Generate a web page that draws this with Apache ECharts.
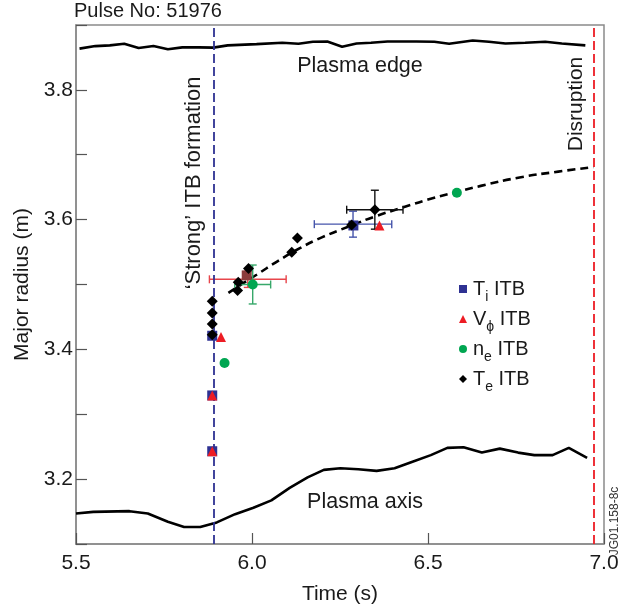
<!DOCTYPE html>
<html>
<head>
<meta charset="utf-8">
<script src="https://cdn.jsdelivr.net/npm/echarts@6/dist/echarts.min.js"></script>
<style>
html,body{margin:0;padding:0;background:#fff;}
#chart{width:633px;height:610px;}
</style>
</head>
<body>
<div id="chart"></div>
<script>
// ---------- data ----------
const xTicks = [5.5, 6.0, 6.5, 7.0];
const yTickLabels = [3.2, 3.4, 3.6, 3.8];

const edgeTime   = [5.510,5.555,5.596,5.637,5.678,5.720,5.761,5.802,5.849,5.890,5.931,6.013,6.086,6.132,6.173,6.214,6.256,6.297,6.338,6.385,6.467,6.518,6.560,6.627,6.673,6.720,6.776,6.833,6.880,6.947];
const edgeRadius = [3.8636,3.8675,3.8686,3.8711,3.8645,3.8675,3.8625,3.8655,3.8655,3.8651,3.8686,3.8705,3.8727,3.8711,3.8742,3.8746,3.8666,3.8716,3.8727,3.8746,3.8746,3.8742,3.8711,3.8761,3.8742,3.8716,3.8727,3.8742,3.8716,3.8686];

const axisTime   = [5.500,5.549,5.652,5.704,5.761,5.807,5.853,5.900,5.952,6.004,6.055,6.107,6.158,6.204,6.251,6.302,6.354,6.405,6.456,6.508,6.555,6.601,6.653,6.704,6.756,6.802,6.854,6.900,6.952];
const axisRadius = [3.1469,3.1495,3.1506,3.1469,3.1343,3.1263,3.1263,3.1333,3.1460,3.1560,3.1672,3.1864,3.2026,3.2143,3.2167,3.2152,3.2127,3.2167,3.2268,3.2370,3.2481,3.2491,3.2409,3.2470,3.2409,3.2370,3.2370,3.2481,3.2329];

const fitTime   = [5.933,5.975,6.013,6.070,6.136,6.200,6.278,6.350,6.430,6.500,6.5625,6.650,6.760,6.870,6.970];
const fitRadius = [3.487,3.502,3.515,3.535,3.556,3.573,3.590,3.605,3.619,3.631,3.640,3.652,3.665,3.674,3.681];

const tiTime     = [5.887,5.887,5.887,5.985,6.288];
const tiRadius   = [3.421,3.329,3.243,3.514,3.591];
const vphiTime   = [5.887,5.887,5.912,6.362];
const vphiRadius = [3.329,3.243,3.419,3.591];
const neTime     = [5.922,6.002,6.582];
const neRadius   = [3.379,3.500,3.6415];
const teTime     = [5.887,5.887,5.887,5.887,5.959,5.961,5.990,6.113,6.129,6.283,6.349];
const teRadius   = [3.474,3.456,3.439,3.4225,3.4906,3.5033,3.5245,3.5497,3.5715,3.5916,3.6153];

// error bars: [time, radius, half-width in time, half-height in radius]
const vphiErr = [[5.988, 3.508, 0.109, 0.0125]];
const neErr   = [[6.002, 3.500, 0.051, 0.030]];
const tiErr   = [[6.287, 3.593, 0.110, 0.020]];
const teErr   = [[6.349, 3.6153, 0.080, 0.030]];

const formationTime  = 5.890;
const disruptionTime = 6.972;

const legendLabels = {
  'Ti ITB':   '{m|T}{s|i}{m| ITB}',
  'Vphi ITB': '{m|V}{s|\u03d5}{m| ITB}',
  'ne ITB':   '{m|n}{s|e}{m| ITB}',
  'Te ITB':   '{m|T}{s|e}{m| ITB}'
};

// ---------- chart ----------
const FONT = '"Liberation Sans", Arial, Helvetica, sans-serif';
const TXT = '#1a1a1a';
const chart = echarts.init(document.getElementById('chart'), null, {renderer: 'canvas'});

function pairs(xs, ys) { return xs.map((x, i) => [x, ys[i]]); }

function errSeries(name, data, color) {
  return {
    name: name,
    type: 'custom',
    z: 4,
    silent: true,
    data: data,
    renderItem: function (params, api) {
      const t = api.value(0), r = api.value(1), dt = api.value(2), dr = api.value(3);
      const L = api.coord([t - dt, r]);
      const R = api.coord([t + dt, r]);
      const T = api.coord([t, r + dr]);
      const B = api.coord([t, r - dr]);
      const c = 4;
      const st = {stroke: color, lineWidth: 1.4, fill: null};
      return {
        type: 'group',
        children: [
          {type: 'line', shape: {x1: L[0], y1: L[1], x2: R[0], y2: R[1]}, style: st},
          {type: 'line', shape: {x1: L[0], y1: L[1] - c, x2: L[0], y2: L[1] + c}, style: st},
          {type: 'line', shape: {x1: R[0], y1: R[1] - c, x2: R[0], y2: R[1] + c}, style: st},
          {type: 'line', shape: {x1: T[0], y1: T[1], x2: B[0], y2: B[1]}, style: st},
          {type: 'line', shape: {x1: T[0] - c, y1: T[1], x2: T[0] + c, y2: T[1]}, style: st},
          {type: 'line', shape: {x1: B[0] - c, y1: B[1], x2: B[0] + c, y2: B[1]}, style: st}
        ]
      };
    }
  };
}

const option = {
  animation: false,
  backgroundColor: '#fff',
  textStyle: {fontFamily: FONT},
  title: {
    text: 'Pulse No: 51976',
    left: 74, top: 1, padding: 0,
    textStyle: {fontFamily: FONT, fontSize: 20, fontWeight: 'normal', color: TXT}
  },
  grid: {
    left: 76, right: 29, top: 25, bottom: 56,
    show: true, borderColor: '#8a8a8a', borderWidth: 1.5, backgroundColor: 'transparent'
  },
  legend: {
    orient: 'vertical',
    left: 454, top: 274,
    itemWidth: 8, itemHeight: 8,
    itemGap: 5,
    selectedMode: false,
    data: [
      {name: 'Ti ITB', icon: 'rect'},
      {name: 'Vphi ITB', icon: 'triangle'},
      {name: 'ne ITB', icon: 'circle'},
      {name: 'Te ITB', icon: 'diamond'}
    ],
    formatter: function (name) { return legendLabels[name]; },
    textStyle: {
      padding: [0, 0, 0, 1],
      rich: {
        m: {fontFamily: FONT, fontSize: 20, color: TXT, lineHeight: 30, verticalAlign: 'middle'},
        s: {fontFamily: FONT, fontSize: 14, color: TXT, lineHeight: 20, verticalAlign: 'bottom'}
      }
    }
  },
  xAxis: {
    type: 'value',
    min: 5.5, max: 7.0, interval: 0.5,
    name: 'Time (s)', nameLocation: 'middle', nameGap: 40,
    nameTextStyle: {fontFamily: FONT, fontSize: 21, color: TXT},
    axisLine: {show: true, lineStyle: {color: '#8a8a8a', width: 1.5}},
    axisTick: {show: true, inside: true, length: 11, lineStyle: {color: '#555', width: 1.2}},
    axisLabel: {
      margin: 9, fontFamily: FONT, fontSize: 21, color: TXT,
      formatter: function (v) {
        const hit = xTicks.find(t => Math.abs(t - v) < 1e-6);
        return hit === undefined ? '' : hit.toFixed(1);
      }
    },
    splitLine: {show: false}
  },
  yAxis: {
    type: 'value',
    min: 3.1, max: 3.9, interval: 0.1,
    name: 'Major radius (m)', nameLocation: 'middle', nameGap: 41, nameRotate: 90,
    nameTextStyle: {fontFamily: FONT, fontSize: 21, color: TXT},
    axisLine: {show: true, lineStyle: {color: '#8a8a8a', width: 1.5}},
    axisTick: {show: true, inside: true, length: 11, lineStyle: {color: '#555', width: 1.2}},
    axisLabel: {
      margin: 3, fontFamily: FONT, fontSize: 21, color: TXT,
      formatter: function (v) {
        const hit = yTickLabels.find(t => Math.abs(t - v) < 1e-6);
        return hit === undefined ? '' : hit.toFixed(1);
      }
    },
    splitLine: {show: false}
  },
  graphic: [
    {type: 'text', x: 360, y: 66, silent: true,
     style: {text: 'Plasma edge', font: '21.5px ' + FONT, fill: TXT, textAlign: 'center', textVerticalAlign: 'middle'}},
    {type: 'text', x: 365, y: 502, silent: true,
     style: {text: 'Plasma axis', font: '21.5px ' + FONT, fill: TXT, textAlign: 'center', textVerticalAlign: 'middle'}},
    {type: 'text', x: 194, y: 183, rotation: Math.PI / 2, silent: true,
     style: {text: '\u2018Strong\u2019 ITB formation', font: '22px ' + FONT, fill: TXT, textAlign: 'center', textVerticalAlign: 'middle'}},
    {type: 'text', x: 576, y: 104, rotation: Math.PI / 2, silent: true,
     style: {text: 'Disruption', font: '21px ' + FONT, fill: TXT, textAlign: 'center', textVerticalAlign: 'middle'}},
    {type: 'text', x: 615, y: 521, rotation: Math.PI / 2, silent: true,
     style: {text: 'JG01.158-8c', font: '12px ' + FONT, fill: '#333', textAlign: 'center', textVerticalAlign: 'middle'}}
  ],
  series: [
    {
      name: 'Plasma edge', type: 'line', data: pairs(edgeTime, edgeRadius),
      showSymbol: false, symbol: 'none', z: 1, silent: true,
      lineStyle: {color: '#000', width: 2.6},
      markLine: {
        silent: true, symbol: ['none', 'none'], label: {show: false},
        data: [
          {xAxis: formationTime, lineStyle: {color: '#2e3192', width: 1.8, type: [9, 4]}},
          {xAxis: disruptionTime, lineStyle: {color: '#ed1c24', width: 1.8, type: [9, 4]}}
        ]
      }
    },
    {
      name: 'Plasma axis', type: 'line', data: pairs(axisTime, axisRadius),
      showSymbol: false, symbol: 'none', z: 1, silent: true,
      lineStyle: {color: '#000', width: 2.6}
    },
    {
      name: 'Fit', type: 'line', data: pairs(fitTime, fitRadius), smooth: true,
      showSymbol: false, symbol: 'none', z: 2, silent: true,
      lineStyle: {color: '#000', width: 2.6, type: [8, 5]}
    },
    errSeries('Vphi err', vphiErr, '#e8454b'),
    errSeries('ne err', neErr, '#37a86a'),
    errSeries('Ti err', tiErr, '#4655ab'),
    errSeries('Te err', teErr, '#111'),
    {
      name: 'Ti ITB', type: 'scatter', symbol: 'rect', symbolSize: 10, z: 5,
      itemStyle: {color: '#2e3192', opacity: 1},
      data: tiTime.map((t, i) => (i === 3
        ? {value: [t, tiRadius[i]], itemStyle: {color: '#8b3b3b'}}
        : {value: [t, tiRadius[i]]}))
    },
    {
      name: 'Vphi ITB', type: 'scatter', symbol: 'triangle', symbolSize: 10, z: 6,
      itemStyle: {color: '#ed1c24', opacity: 1},
      data: pairs(vphiTime, vphiRadius)
    },
    {
      name: 'ne ITB', type: 'scatter', symbol: 'circle', symbolSize: 10, z: 6,
      itemStyle: {color: '#00a651', opacity: 1},
      data: pairs(neTime, neRadius)
    },
    {
      name: 'Te ITB', type: 'scatter', symbol: 'diamond', symbolSize: 11, z: 7,
      itemStyle: {color: '#000', opacity: 1},
      data: pairs(teTime, teRadius)
    }
  ]
};
chart.setOption(option);
</script>
</body>
</html>
